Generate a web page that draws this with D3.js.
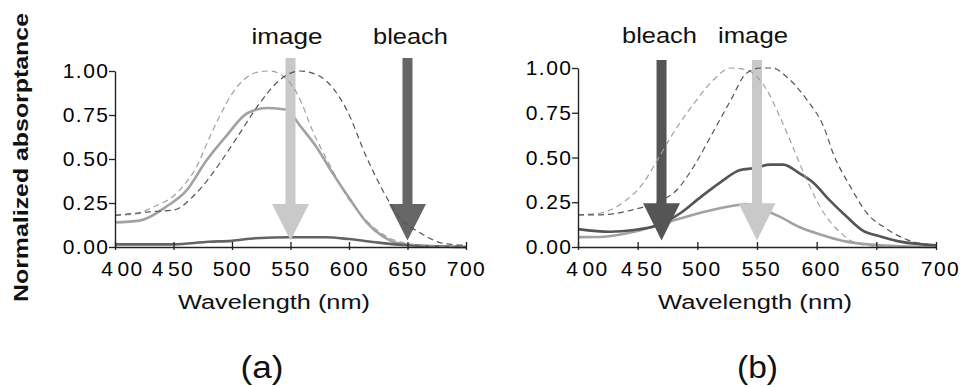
<!DOCTYPE html>
<html>
<head>
<meta charset="utf-8">
<script src="https://cdn.jsdelivr.net/npm/d3@7/dist/d3.min.js"></script>
<style>
  html, body { margin: 0; padding: 0; background: #fff; }
  svg { display: block; font-family: "Liberation Sans", Arial, Helvetica, sans-serif; }
</style>
</head>
<body>
<svg id="chart" width="967" height="387"></svg>
<script>
// ---------- data ----------
const wavelengthTicks = [400, 450, 500, 550, 600, 650, 700];
const absorptanceTicks = [0, 0.25, 0.5, 0.75, 1.0];

// panel (a)
const aDashLight = [[400,.18],[420,.19],[430,.22],[450,.29],[460,.36],[470,.46],[480,.61],[490,.75],[500,.87],[510,.95],[520,.99],[532,1.0],[550,.93],[560,.81],[567,.69],[584,.46],[598,.29],[615,.15],[632,.06],[650,.02],[675,.005],[700,0]];
const aDashDark  = [[400,.18],[430,.2],[450,.21],[470,.31],[490,.48],[507,.65],[524,.82],[541,.95],[558,1.0],[575,.97],[598,.78],[615,.51],[629,.32],[643,.17],[661,.08],[681,.02],[700,.01]];
const aSolidLight = [[400,.14],[421,.15],[444,.23],[461,.32],[478,.49],[495,.63],[513,.76],[530,.79],[547,.78],[558,.69],[572,.57],[586,.42],[601,.27],[615,.14],[629,.06],[643,.02],[670,.005],[700,0]];
const aSolidDark = [[400,.015],[450,.015],[480,.03],[500,.035],[520,.05],[550,.055],[580,.055],[600,.045],[625,.025],[650,.01],[700,0]];

// panel (b)
const bDashLight = [[400,.18],[419,.19],[438,.25],[455,.36],[466,.48],[483,.67],[497,.80],[513,.93],[528,1.0],[541,.99],[558,.88],[569,.73],[580,.56],[592,.37],[606,.19],[620,.08],[634,.02],[660,0],[700,0]];
const bDashDark  = [[400,.18],[419,.18],[447,.21],[466,.25],[483,.32],[497,.45],[513,.64],[528,.82],[541,.97],[553,1.0],[563,1.0],[575,.95],[592,.82],[606,.67],[614,.52],[628,.34],[642,.19],[659,.1],[676,.04],[700,.01]];
const bSolidDark = [[400,.1],[427,.085],[447,.095],[466,.12],[486,.19],[503,.28],[519,.36],[536,.43],[547,.44],[561,.46],[572,.46],[586,.41],[597,.36],[611,.26],[625,.17],[639,.09],[653,.06],[670,.03],[700,.01]];
const bSolidLight = [[400,.055],[419,.056],[447,.085],[466,.12],[486,.16],[508,.2],[530,.23],[541,.24],[555,.21],[569,.17],[586,.11],[603,.07],[625,.03],[653,.01],[700,0]];

// arrows: wavelength, label
const aArrows = [{w:550, label:"image", kind:"light"}, {w:650, label:"bleach", kind:"dark"}];
const bArrows = [{w:470, label:"bleach", kind:"dark"}, {w:550, label:"image", kind:"light"}];

// ---------- layout / style ----------
const panels = [
  { id:"a", xr:[115,466], yr:[247,71], top:1.074, dashLight:aDashLight, dashDark:aDashDark, solidLight:aSolidLight, solidDark:aSolidDark,
    arrows:aArrows, darkArrow:"#666666", solidDarkColor:"#636363",
    labelW:{image:71, bleach:75}, labelX:{image:287, bleach:410.5}, labelY:44,
    xLabelDx:{400:7, 450:-1}, defDx:0,
    title:"Wavelength (nm)", titleX:274, titleW:192, tag:"(a)", tagX:262, tagW:43 },
  { id:"b", xr:[578,936], yr:[247,68], top:1.045, dashLight:bDashLight, dashDark:bDashDark, solidLight:bSolidLight, solidDark:bSolidDark,
    arrows:bArrows, darkArrow:"#555555", solidDarkColor:"#555555",
    labelW:{image:70, bleach:75}, labelX:{image:753, bleach:659.5}, labelY:43,
    xLabelDx:{400:9}, defDx:4,
    title:"Wavelength (nm)", titleX:755, titleW:194, tag:"(b)", tagX:757.5, tagW:41 }
];

const svg = d3.select("#chart");
const fmtY = d3.format(".2f");
const fmtX = d3.format("d");
const tickFont = '"Liberation Sans", Arial, sans-serif';

panels.forEach(p => {
  const x = d3.scaleLinear().domain([400, 700]).range(p.xr);
  const y = d3.scaleLinear().domain([0, 1]).range(p.yr);
  const g = svg.append("g");
  const line = d3.line().x(d => x(d[0])).y(d => y(d[1])).curve(d3.curveMonotoneX);

  // solid curves
  g.append("path").attr("d", line(p.solidLight)).attr("fill","none").attr("stroke","#a2a2a2").attr("stroke-width",2.6);
  g.append("path").attr("d", line(p.solidDark)).attr("fill","none").attr("stroke",p.solidDarkColor).attr("stroke-width",2.6);

  // arrows
  p.arrows.forEach(a => {
    const cx = x(a.w);
    const yTop = y(p.top), yBase = y(0.245), yTip = y(0.037);
    const col = a.kind === "light" ? "#c9c9c9" : p.darkArrow;
    const sw = 5, hw = 18.5;
    g.append("path")
      .attr("d", `M${cx-sw},${yTop}L${cx+sw},${yTop}L${cx+sw},${yBase}L${cx+hw},${yBase}L${cx},${yTip}L${cx-hw},${yBase}L${cx-sw},${yBase}Z`)
      .attr("fill", col);
    svg.append("text")
      .attr("x", p.labelX[a.label]).attr("y", p.labelY)
      .attr("text-anchor","middle")
      .attr("font-size", 21.5)
      .attr("textLength", p.labelW[a.label]).attr("lengthAdjust","spacingAndGlyphs")
      .attr("fill","#111")
      .text(a.label);
  });

  // dashed curves
  g.append("path").attr("d", line(p.dashLight)).attr("fill","none").attr("stroke","#a0a0a0").attr("stroke-width",1.2).attr("stroke-dasharray","6,4");
  g.append("path").attr("d", line(p.dashDark)).attr("fill","none").attr("stroke","#555").attr("stroke-width",1.2).attr("stroke-dasharray","6,4");

  // y axis
  const ya = svg.append("g").attr("transform", `translate(${p.xr[0]},0)`)
    .call(d3.axisLeft(y).tickValues(absorptanceTicks).tickFormat(fmtY).tickSize(6).tickSizeOuter(0));
  ya.select(".domain").attr("stroke","#222").attr("stroke-width",1.4);
  ya.selectAll(".tick line").attr("stroke","#222").attr("stroke-width",1.3);
  ya.selectAll(".tick text").attr("x",-5.5).attr("font-size",21).attr("fill","#000")
    .attr("font-family",tickFont).style("letter-spacing","1.5px");

  // x axis
  const xa = svg.append("g").attr("transform", `translate(0,${p.yr[0]})`)
    .call(d3.axisBottom(x).tickValues(wavelengthTicks).tickFormat(fmtX).tickSizeOuter(0));
  xa.select(".domain").attr("stroke","#222").attr("stroke-width",1.4);
  xa.selectAll(".tick line").attr("stroke","#222").attr("stroke-width",1.3).attr("y1",3).attr("y2",-5);
  xa.selectAll(".tick text").each(function(d){
    const t = d3.select(this);
    const s = fmtX(d);
    const dx = (p.xLabelDx[d] !== undefined ? p.xLabelDx[d] : p.defDx);
    t.text(null).attr("y",28.5).attr("dy",null).attr("x",dx)
      .attr("font-size",21).attr("fill","#000")
      .attr("font-family",tickFont).style("letter-spacing","1.5px");
    if (s[0] === "4") {
      t.append("tspan").text(s[0]);
      t.append("tspan").attr("dx",3).text(s.slice(1));
    } else {
      t.text(s);
    }
  });

  // axis title and panel tag
  svg.append("text").attr("x", p.titleX).attr("y", 309).attr("text-anchor","middle")
    .attr("font-size",20).attr("textLength",p.titleW).attr("lengthAdjust","spacingAndGlyphs")
    .attr("fill","#111").text(p.title);
  svg.append("text").attr("x", p.tagX).attr("y", 378).attr("text-anchor","middle")
    .attr("font-size",31).attr("textLength",p.tagW).attr("lengthAdjust","spacingAndGlyphs")
    .attr("fill","#111").text(p.tag);
});

// shared y title
svg.append("text")
  .attr("transform","translate(28,157.5) rotate(-90)")
  .attr("text-anchor","middle")
  .attr("font-size",21).attr("font-weight","bold")
  .attr("textLength",289).attr("lengthAdjust","spacingAndGlyphs")
  .attr("fill","#111")
  .text("Normalized absorptance");
</script>
</body>
</html>
